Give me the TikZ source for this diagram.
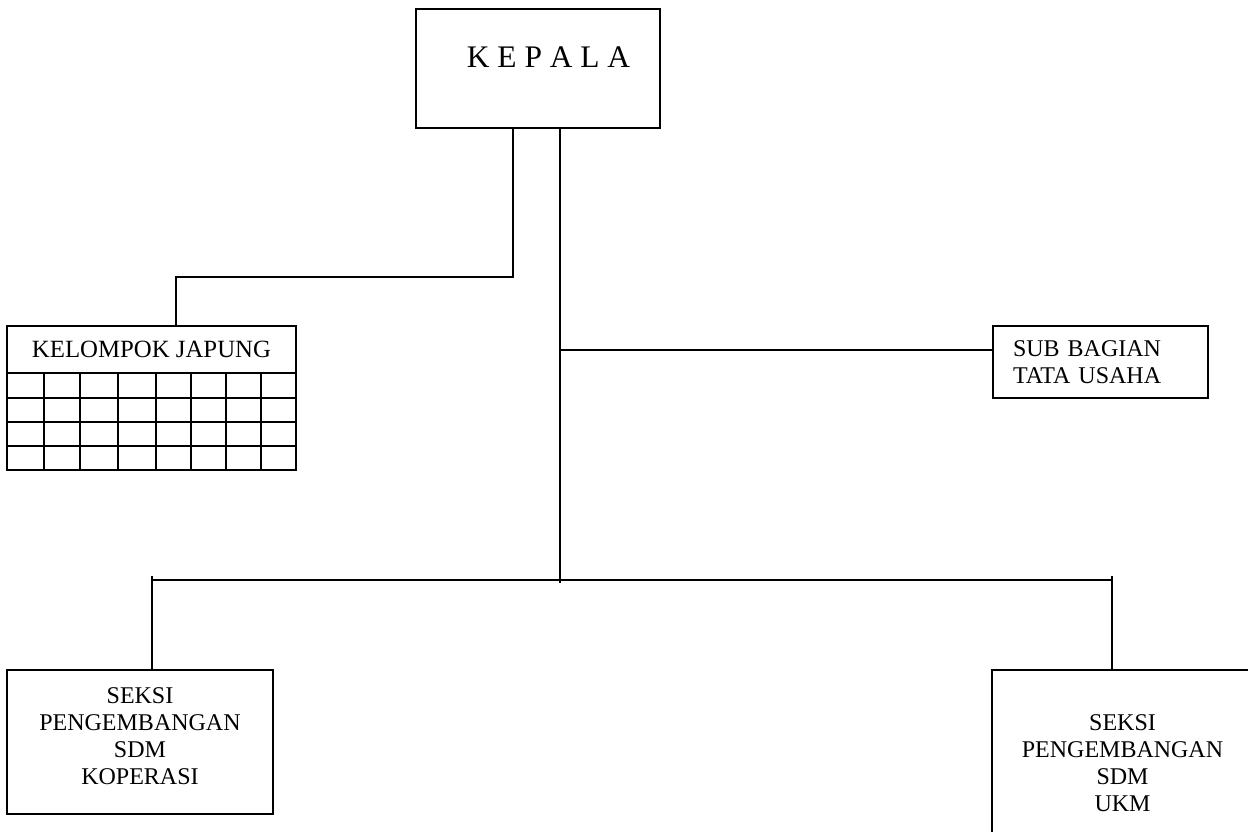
\documentclass[tikz,border=0pt]{standalone}
\usepackage{fontspec}
\setmainfont{Liberation Serif}
\usetikzlibrary{positioning}

\tikzset{
	unit/.style={draw, line width=1pt, inner sep=0pt, align=center,
		font=\fontsize{12}{13.5}\selectfont},
	caption/.style={inner sep=0pt, align=center, font=\fontsize{12}{13.5}\selectfont},
	conn/.style={line width=1pt},
}

\begin{document}
\begin{tikzpicture}[x=0.5pt,y=-0.5pt]
	\useasboundingbox (0,0) rectangle (1248,831);
	\clip (0,0) rectangle (1248,831);
	
	\node[unit, minimum width=122pt, minimum height=59.5pt] (kepala) at (538,68.5) {};
	\node[caption, font=\fontsize{15.7}{18}\selectfont] (kepalatext) at (548.5,57.5) {K E P A L A};
	
	\node[unit, font=\fontsize{12.4}{14}\selectfont, minimum width=144.5pt, minimum height=23.5pt] (japung) at (151.5,349.5) {KELOMPOK JAPUNG};
	\draw[conn] (7,373) rectangle (296,470);
	\draw[conn] (7,398) -- (296,398);
	\draw[conn] (7,422) -- (296,422);
	\draw[conn] (7,446) -- (296,446);
	\draw[conn] (44,373) -- (44,470);
	\draw[conn] (80,373) -- (80,470);
	\draw[conn] (118,373) -- (118,470);
	\draw[conn] (156,373) -- (156,470);
	\draw[conn] (191,373) -- (191,470);
	\draw[conn] (226,373) -- (226,470);
	\draw[conn] (261,373) -- (261,470);
	
	\node[unit, align=left, text width=87.5pt, inner xsep=10pt, minimum height=36pt] (tatausaha) at (1100.5,362) {SUB BAGIAN\\TATA USAHA};
	
	\node[unit, minimum width=133pt, minimum height=72pt] (koperasi) at (140,742) {};
	\node[caption] (koperasitext) at (140,736) {SEKSI\\PENGEMBANGAN\\SDM\\KOPERASI};
	
	\node[unit, minimum width=130.5pt, minimum height=93.5pt] (ukm) at (1122.5,763.5) {SEKSI\\PENGEMBANGAN\\SDM\\UKM};
	
	% lines from the top
	\coordinate (japungbend) at (176,277);
	\draw[conn] ([xshift=-12.5pt]kepala.south) |- (japungbend) -- (japungbend |- japung.north);
	
	\coordinate (spine) at ([xshift=11pt]kepala.south);
	\coordinate (bus) at (560,580);
	\draw[conn] (spine) -- ([yshift=-1.5pt]bus);
	
	\coordinate (tatajoin) at ([yshift=6pt]tatausaha.west);
	\draw[conn] (spine |- tatajoin) -- (tatajoin);
	
	% bottom bus
	\coordinate (busleft) at (152,580);
	\coordinate (busright) at (1112,580);
	\draw[conn] (busleft) -- (busright);
	\draw[conn] ([yshift=2pt]busleft) -- (busleft |- koperasi.north);
	\draw[conn] ([yshift=2pt]busright) -- (busright |- ukm.north);
\end{tikzpicture}
\end{document}
